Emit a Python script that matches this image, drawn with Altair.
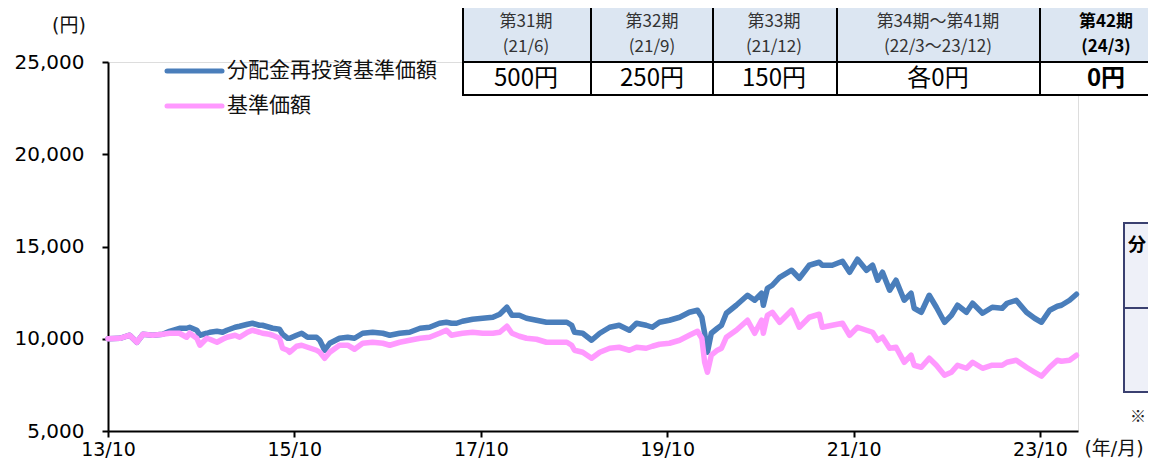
import altair as alt
import pandas as pd

# ---------------- data ----------------
dates = [
    "2013-10-01", "2013-11-17", "2013-12-25", "2014-01-22", "2014-02-15", "2014-03-25",
    "2014-05-03", "2014-05-30", "2014-07-08", "2014-08-05", "2014-08-17", "2014-09-14",
    "2014-09-26", "2014-10-23", "2014-11-04", "2014-12-02", "2014-12-24", "2015-01-10",
    "2015-02-11", "2015-03-01", "2015-04-01", "2015-04-20", "2015-05-17", "2015-05-29",
    "2015-06-25", "2015-07-08", "2015-08-04", "2015-08-16", "2015-09-05", "2015-09-13",
    "2015-10-10", "2015-10-30", "2015-11-22", "2015-12-27", "2016-01-09", "2016-01-28",
    "2016-02-17", "2016-03-26", "2016-04-27", "2016-05-24", "2016-06-25", "2016-08-03",
    "2016-09-12", "2016-10-09", "2016-11-17", "2016-12-26", "2017-02-05", "2017-03-14",
    "2017-04-22", "2017-05-19", "2017-06-08", "2017-06-28", "2017-07-21", "2017-08-30",
    "2017-10-08", "2017-11-17", "2017-12-14", "2018-01-11", "2018-01-31", "2018-03-01",
    "2018-03-29", "2018-05-07", "2018-06-15", "2018-07-25", "2018-09-03", "2018-09-22",
    "2018-10-03", "2018-11-04", "2018-12-09", "2019-01-10", "2019-02-18", "2019-03-27",
    "2019-05-06", "2019-06-03", "2019-07-11", "2019-08-04", "2019-09-01", "2019-10-10",
    "2019-11-19", "2019-12-27", "2020-01-28", "2020-02-14", "2020-02-25", "2020-03-07",
    "2020-03-22", "2020-04-15", "2020-05-01", "2020-05-20", "2020-06-28", "2020-08-11",
    "2020-09-08", "2020-10-05", "2020-10-12", "2020-10-28", "2020-11-16", "2020-12-15",
    "2021-01-31", "2021-03-02", "2021-04-10", "2021-05-19", "2021-05-31", "2021-07-09",
    "2021-08-18", "2021-09-15", "2021-10-16", "2021-11-20", "2021-12-14", "2022-01-03",
    "2022-01-22", "2022-02-19", "2022-03-16", "2022-04-17", "2022-05-14", "2022-05-26",
    "2022-06-23", "2022-07-24", "2022-08-21", "2022-09-22", "2022-10-19", "2022-11-12",
    "2022-12-17", "2023-01-10", "2023-02-18", "2023-03-28", "2023-05-06", "2023-05-25",
    "2023-06-30", "2023-08-09", "2023-09-10", "2023-10-07", "2023-11-08", "2023-12-08",
    "2023-12-24", "2024-01-25", "2024-02-21",
]

# 分配金再投資基準価額 (blue)
nav_reinvested = [
    10000, 10027, 10190, 9810, 10244, 10190,
    10244, 10400, 10569, 10569, 10623, 10461,
    10190, 10298, 10352, 10407, 10352, 10461,
    10623, 10678, 10786, 10840, 10732, 10732,
    10623, 10569, 10515, 10244, 10027, 10027,
    10190, 10298, 10081, 10081, 9919, 9377,
    9756, 10027, 10081, 10027, 10298, 10352,
    10298, 10190, 10298, 10352, 10569, 10623,
    10840, 10894, 10840, 10840, 10949, 11057,
    11111, 11165, 11328, 11707, 11274, 11274,
    11111, 11003, 10894, 10894, 10894, 10732,
    10352, 10298, 9919, 10298, 10623, 10732,
    10461, 10840, 10732, 10623, 10894, 11003,
    11165, 11436, 11545, 11165, 10298, 9268,
    10298, 10569, 10732, 11382, 11816, 12358,
    12087, 12466, 11816, 12737, 12900, 13333,
    13713, 13279, 13984, 14146, 13984, 13984,
    14201, 13604, 14309, 13713, 13984, 13171,
    13604, 12629, 13171, 12087, 12466, 11653,
    11436, 12358, 11707, 10894, 11274, 11816,
    11436, 11924, 11382, 11707, 11653, 11924,
    12087, 11436, 11111, 10894, 11545, 11761,
    11816, 12087, 12412,
]

# 基準価額 (pink)
nav = [
    10000, 10027, 10190, 9810, 10244, 10190,
    10244, 10298, 10298, 10081, 10298, 10027,
    9648, 10027, 9973, 9810, 9973, 10081,
    10190, 10081, 10352, 10461, 10352, 10298,
    10244, 10190, 10027, 9485, 9377, 9268,
    9593, 9648, 9539, 9377, 9268, 8943,
    9268, 9648, 9648, 9431, 9756, 9810,
    9756, 9648, 9810, 9919, 10027, 10081,
    10298, 10461, 10190, 10244, 10298, 10352,
    10298, 10298, 10352, 10678, 10298, 10136,
    10027, 9973, 9810, 9810, 9810, 9648,
    9377, 9268, 8943, 9268, 9485, 9539,
    9377, 9539, 9485, 9593, 9702, 9756,
    9919, 10190, 10407, 10027, 8726, 8185,
    9106, 9377, 9485, 10081, 10461, 11003,
    10298, 11003, 10298, 11274, 11436, 10894,
    11545, 10623, 11165, 11328, 10623, 10732,
    10840, 10190, 10623, 10461, 10352, 9919,
    10081, 9485, 9539, 8726, 9106, 8564,
    8455, 8943, 8564, 8022, 8185, 8564,
    8401, 8726, 8401, 8564, 8564, 8726,
    8835, 8455, 8185, 7968, 8455, 8835,
    8780, 8835, 9106,
]

y_ticks = [5000, 10000, 15000, 20000, 25000]
x_tick_years = [2013, 2015, 2017, 2019, 2021, 2023]

legend_labels = ["分配金再投資基準価額", "基準価額"]

table_head1 = ["第31期", "第32期", "第33期", "第34期～第41期", "第42期"]
table_head2 = ["(21/6)", "(21/9)", "(21/12)", "(22/3～23/12)", "(24/3)"]
table_values = ["500円", "250円", "150円", "各0円", "0円"]

# ---------------- layout (page pixels) ----------------
X0, Y0 = 108, 62          # plot origin on the page
W, H = 970, 369
BLUE = "#4A7EBB"
PINK = "#FF99FF"
JP = "Noto Sans CJK JP"
LAT = "DejaVu Sans, Noto Sans CJK JP"


def px(v):
    return v - X0


def py(v):
    return v - Y0


df = pd.DataFrame({"date": dates, "blue": nav_reinvested, "pink": nav})

xscale = alt.Scale(
    type="utc",
    domain=[alt.DateTime(year=2013, month=10, date=1, utc=True),
            alt.DateTime(year=2024, month=2, date=27, utc=True)],
    nice=False,
)
xaxis = alt.Axis(
    values=[alt.DateTime(year=y, month=10, date=1, utc=True) for y in x_tick_years],
    format="%y/%m", title=None, grid=False, domainColor="black", domainWidth=2,
    tickColor="black", tickWidth=2, tickSize=6, labelFont="DejaVu Sans",
    labelFontSize=19, labelColor="black", labelPadding=3, labelFlush=False,
    labelOverlap=False,
)
yscale = alt.Scale(domain=[5000, 25000], nice=False, zero=False)
yaxis = alt.Axis(
    values=y_ticks, format=",.0f", title=None, grid=False, domainColor="black",
    domainWidth=2, tickColor="black", tickWidth=2, tickSize=6,
    labelFont="DejaVu Sans", labelFontSize=20, labelColor="black",
    labelPadding=18,
)

base = alt.Chart(df)
blue_line = base.mark_line(color=BLUE, strokeWidth=5.5, strokeJoin="round", strokeCap="round").encode(
    x=alt.X("date:T", scale=xscale, axis=xaxis),
    y=alt.Y("blue:Q", scale=yscale, axis=yaxis),
)
pink_line = base.mark_line(color=PINK, strokeWidth=5.5, strokeJoin="round", strokeCap="round").encode(
    x=alt.X("date:T", scale=xscale, axis=xaxis),
    y=alt.Y("pink:Q", scale=yscale, axis=yaxis),
)

PX = dict(scale=None, axis=None)

# ---- legend ----
leg_y = [71, 106]
leg_df = pd.DataFrame({
    "x": [px(167)] * 2, "x2": [px(222)] * 2, "y": [py(v) for v in leg_y],
    "tx": [px(227)] * 2, "label": legend_labels, "c": [BLUE, PINK],
})
leg_lines = alt.Chart(leg_df).mark_rule(strokeWidth=5, strokeCap="round").encode(
    x=alt.X("x:Q", **PX), x2="x2", y=alt.Y("y:Q", **PX),
    color=alt.Color("c:N", scale=None),
)
leg_text = alt.Chart(leg_df).mark_text(
    font=JP, fontSize=21, align="left", baseline="middle", color="#111111"
).encode(x=alt.X("tx:Q", **PX), y=alt.Y("y:Q", **PX), text="label:N")

# ---- table ----
cols = [463, 591, 713, 837, 1040, 1172]
centers = [526, 652, 774, 938, 1106]
cells = []
for i in range(5):
    cells.append({"x": px(cols[i]), "x2": px(cols[i + 1]), "y": py(-4), "y2": py(62), "f": "#DCE6F2"})
    cells.append({"x": px(cols[i]), "x2": px(cols[i + 1]), "y": py(62), "y2": py(95), "f": "#FFFFFF"})
cell_df = pd.DataFrame(cells)
table_rects = alt.Chart(cell_df).mark_rect(stroke="black", strokeWidth=2).encode(
    x=alt.X("x:Q", **PX), x2="x2", y=alt.Y("y:Q", **PX), y2="y2",
    fill=alt.Fill("f:N", scale=None),
)

HS = 17
head_rows = []
for i in range(5):
    bold = i == 4
    head_rows.append({"x": px(centers[i]), "y": py(22), "t": table_head1[i], "b": bold, "s": HS})
    head_rows.append({"x": px(centers[i]), "y": py(47), "t": table_head2[i], "b": bold, "s": HS})
    head_rows.append({"x": px(centers[i]), "y": py(79), "t": table_values[i], "b": bold, "s": 24})
head_df = pd.DataFrame(head_rows)
hn = head_df[(~head_df.b) & (head_df.s == HS)]
hv = head_df[(~head_df.b) & (head_df.s == 24)]
bh = head_df[(head_df.b) & (head_df.s == HS)]
bv = head_df[(head_df.b) & (head_df.s == 24)]


def txt(d, size, weight, color):
    return alt.Chart(d).mark_text(
        font=JP, fontSize=size, fontWeight=weight, align="center", baseline="middle", color=color
    ).encode(x=alt.X("x:Q", **PX), y=alt.Y("y:Q", **PX), text="t:N")


table_text = [
    txt(hn, HS, "normal", "#333333"),
    txt(hv, 24, "normal", "#000000"),
    txt(bh, HS, "bold", "#000000"),
    txt(bv, 24, "bold", "#000000"),
]

# ---- right box ----
box_df = pd.DataFrame({
    "x": [px(1124)] * 2, "x2": [px(1190)] * 2,
    "y": [py(223), py(308)], "y2": [py(308), py(392)],
})
box = alt.Chart(box_df).mark_rect(fill="#EEF0F8", stroke="#3A4070", strokeWidth=2).encode(
    x=alt.X("x:Q", **PX), x2="x2", y=alt.Y("y:Q", **PX), y2="y2",
)

misc_df = pd.DataFrame({
    "x": [px(69), px(1114)], "y": [py(26), py(449)], "t": ["(円)", "(年/月)"],
})
misc = alt.Chart(misc_df).mark_text(
    font=LAT, fontSize=19, align="center", baseline="middle", color="#111111"
).encode(x=alt.X("x:Q", **PX), y=alt.Y("y:Q", **PX), text="t:N")

side_df = pd.DataFrame({"x": [px(1128)], "y": [py(246)], "t": ["分"]})
side = alt.Chart(side_df).mark_text(
    font=JP, fontSize=18, fontWeight="bold", align="left", baseline="middle", color="#000000"
).encode(x=alt.X("x:Q", **PX), y=alt.Y("y:Q", **PX), text="t:N")

note_df = pd.DataFrame({"x": [px(1130)], "y": [py(417)], "t": ["※"]})
note = alt.Chart(note_df).mark_text(
    font=JP, fontSize=16, align="left", baseline="middle", color="#222222"
).encode(x=alt.X("x:Q", **PX), y=alt.Y("y:Q", **PX), text="t:N")

chart = alt.layer(
    blue_line, pink_line, leg_lines, leg_text, table_rects, *table_text, box, side, note, misc
).properties(
    width=W, height=H, autosize=alt.AutoSizeParams(type="none"),
    padding={"left": 100, "top": 54, "right": 70, "bottom": 31},
).configure_view(stroke=None).configure(background="white")

chart.save("out.html", embed_options={"renderer": "svg", "actions": False})
